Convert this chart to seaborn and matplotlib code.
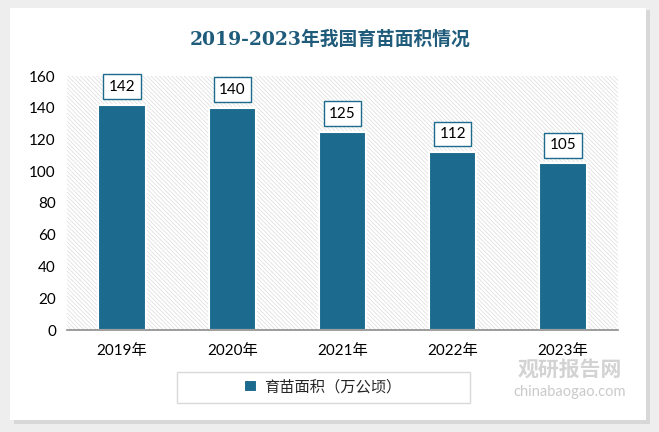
import pandas as pd
import matplotlib
matplotlib.use("Agg")
import matplotlib.pyplot as plt
import seaborn as sns
from matplotlib.patches import Rectangle

# 数据
years = ["2019年", "2020年", "2021年", "2022年", "2023年"]
areas = [142, 140, 125, 112, 105]
y_ticks = [0, 20, 40, 60, 80, 100, 120, 140, 160]
series_name = "育苗面积（万公顷）"
title = "2019-2023年我国育苗面积情况"

bar_color = "#1c6b8e"
title_color = "#1f5b7a"

df = pd.DataFrame({"year": years, "area": areas})

sns.set_style("white")
plt.rcParams["font.family"] = ["Lato", "Noto Sans CJK SC", "DejaVu Sans"]
plt.rcParams["hatch.color"] = "#dcdcdc"
plt.rcParams["hatch.linewidth"] = 0.5

fig = plt.figure(figsize=(6.59, 4.32), dpi=100)
fig.patch.set_facecolor("#eeeeee")

# 白色卡片 + 阴影
fig.patches.append(Rectangle((14 / 659, 8 / 432), 636 / 659, 414 / 432,
                             transform=fig.transFigure, facecolor="#d8d8d8",
                             edgecolor="none", zorder=-3))
fig.patches.append(Rectangle((10 / 659, 12 / 432), 636 / 659, 412 / 432,
                             transform=fig.transFigure, facecolor="white",
                             edgecolor="none", zorder=-2))

ax = fig.add_axes([67 / 659, 1 - 330 / 432, 551 / 659, 254 / 432])
ax.set_facecolor("none")
ax.set_zorder(2)

# 斜线背景
ax.add_patch(Rectangle((0, 0), 1, 1, transform=ax.transAxes, facecolor="white",
                       edgecolor="#dcdcdc", hatch="\\" * 8, linewidth=0, zorder=0))

sns.barplot(data=df, x="year", y="area", color=bar_color, width=0.43,
            edgecolor="white", linewidth=1.5, saturation=1, ax=ax, zorder=2,
            label=series_name)

# 数据标签
for i, v in enumerate(areas):
    ax.annotate(str(v), (i, v), xytext=(0, 13), textcoords="offset points",
                ha="center", va="center", fontsize=11, color="black",
                bbox=dict(boxstyle="square,pad=0.35", facecolor="white",
                          edgecolor=bar_color, linewidth=1), zorder=5)

ax.set_ylim(0, 160)
ax.set_xlim(-0.5, 4.5)
ax.set_yticks(y_ticks)
ax.tick_params(axis="both", length=0, labelsize=11, colors="black")
ax.tick_params(axis="x", pad=10)
ax.tick_params(axis="y", pad=8)
ax.set_xlabel("")
ax.set_ylabel("")
for s in ["top", "right", "left"]:
    ax.spines[s].set_visible(False)
ax.spines["bottom"].set_color("#8c8c8c")
ax.spines["bottom"].set_linewidth(1.2)
ax.spines["bottom"].set_zorder(3)

fig.text(330 / 659, 1 - 40 / 432, title, ha="center", va="center",
         fontsize=13.5, fontweight="bold", color=title_color,
         family=["DejaVu Serif", "Noto Sans CJK SC"])

# 图例
fig.patches.append(Rectangle((177 / 659, 1 - 403 / 432), 293 / 659, 31 / 432,
                             transform=fig.transFigure, facecolor="white",
                             edgecolor="#d9d9d9", linewidth=1, zorder=1))
if ax.get_legend():
    ax.get_legend().remove()
fig.legend(loc="center", bbox_to_anchor=(323 / 659, 1 - 387 / 432),
           frameon=False, fontsize=11, handlelength=0.8, handleheight=0.8,
           handletextpad=0.5)

# 水印
fig.text(570 / 659, 1 - 370 / 432, "观研报告网", ha="center", va="center",
         fontsize=15, fontweight="bold", color="#c8c8c8", alpha=0.8)
fig.text(570 / 659, 1 - 392 / 432, "chinabaogao.com", ha="center", va="center",
         fontsize=10.5, color="#bdbdbd", alpha=0.8)

fig.savefig("out.png", dpi=100, facecolor=fig.get_facecolor())
